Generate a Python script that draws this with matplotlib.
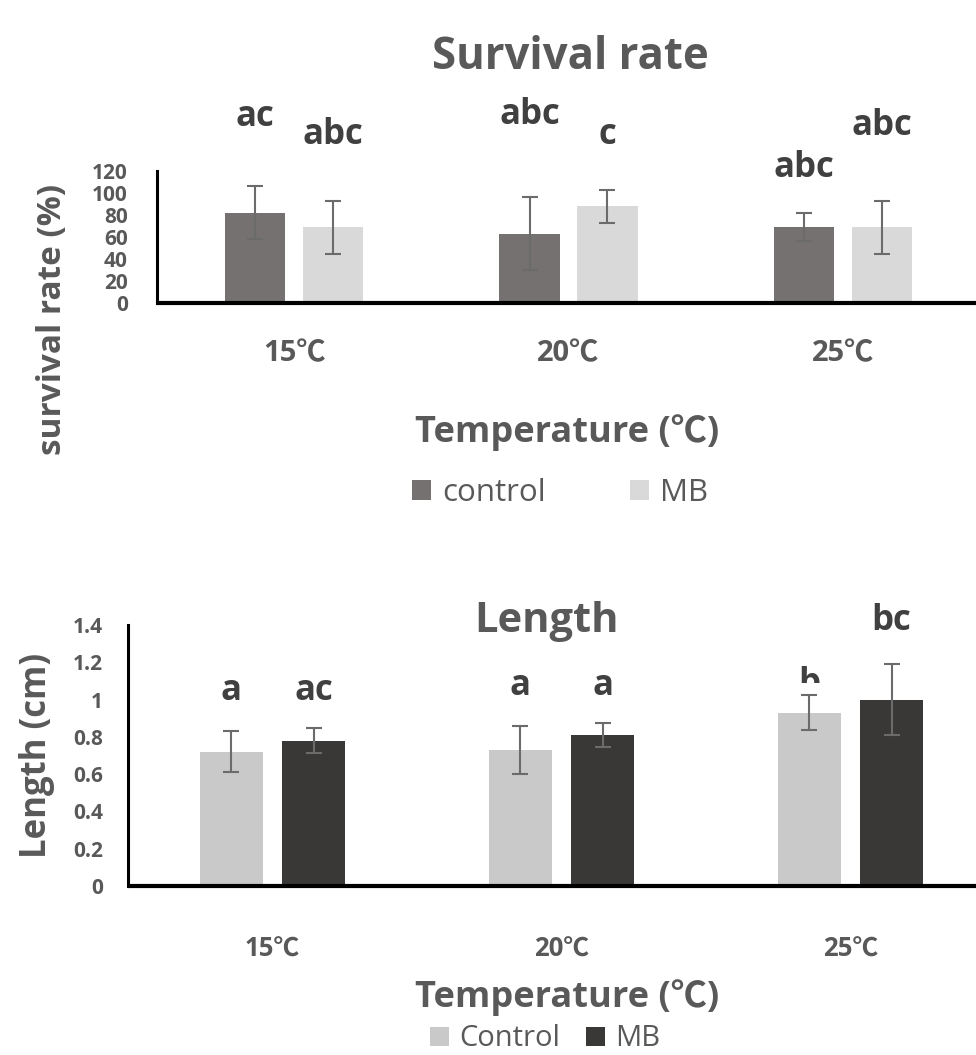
import matplotlib
matplotlib.use("Agg")
import matplotlib.pyplot as plt
import numpy as np
from matplotlib.patches import Rectangle

FONTS = ['Open Sans', 'Noto Sans CJK JP', 'DejaVu Sans']
plt.rcParams['font.family'] = FONTS

# ---------------- data ----------------
temps = ["15℃", "20℃", "25℃"]

surv_control = [82, 63, 69]
surv_control_err = [24, 33, 12.5]
surv_mb = [69, 88, 69]
surv_mb_err = [24, 15, 24]
surv_letters_control = ["ac", "abc", "abc"]
surv_letters_mb = ["abc", "c", "abc"]
surv_letter_y_control = [161, 162.7, 114.5]
surv_letter_y_mb = [145, 144.5, 152.7]

len_control = [0.72, 0.73, 0.93]
len_control_err = [0.11, 0.13, 0.095]
len_mb = [0.78, 0.81, 1.00]
len_mb_err = [0.065, 0.065, 0.19]
len_letters_control = ["a", "a", "b"]
len_letters_mb = ["ac", "a", "bc"]
len_letter_y_control = [0.998, 1.025, 1.035]
len_letter_y_mb = [0.998, 1.025, 1.373]

# ---------------- style ----------------
W, H = 976, 1055
fig = plt.figure(figsize=(W / 100, H / 100), dpi=100)
TXT = "#595959"
ANN = "#404040"
ERR = "#6b6b6b"
bw = 0.22
off = 0.142
x = np.arange(len(temps))


def fx(px):
    return px / W


def fy(py):
    return 1 - py / H


def style_axes(ax, ylim, yticks, yticklabels, ysize, xsize, ypad, xpad):
    ax.set_xlim(-0.5, 2.5)
    ax.set_ylim(*ylim)
    ax.set_yticks(yticks)
    ax.set_yticklabels(yticklabels)
    ax.set_xticks(x)
    ax.set_xticklabels(temps)
    for s in ("top", "right"):
        ax.spines[s].set_visible(False)
    ax.spines["left"].set_linewidth(2.2)
    ax.spines["bottom"].set_linewidth(3.0)
    ax.spines["bottom"].set_capstyle("butt")
    ax.tick_params(axis="both", length=0)
    ax.tick_params(axis="y", pad=ypad)
    ax.tick_params(axis="x", pad=xpad)
    for lab in ax.get_yticklabels():
        lab.set_fontweight("bold")
        lab.set_color(TXT)
        lab.set_fontsize(ysize)
    for lab in ax.get_xticklabels():
        lab.set_fontweight("bold")
        lab.set_color(TXT)
        lab.set_fontsize(xsize)


ANN_SIZE = 25

# ---------------- top: survival rate ----------------
ax1 = fig.add_axes([fx(157), fy(303), fx(980 - 157), (303 - 171) / H])
b1 = ax1.bar(x - off, surv_control, bw, color="#767171", label="control", zorder=2)
b2 = ax1.bar(x + off, surv_mb, bw, color="#D9D9D9", label="MB", zorder=2)
ax1.errorbar(x - off, surv_control, yerr=surv_control_err, fmt="none",
             ecolor=ERR, elinewidth=1.5, capsize=6, capthick=1.5, zorder=3)
ax1.errorbar(x + off, surv_mb, yerr=surv_mb_err, fmt="none",
             ecolor=ERR, elinewidth=1.5, capsize=6, capthick=1.5, zorder=3)
style_axes(ax1, (0, 120), np.arange(0, 121, 20), [str(v) for v in range(0, 121, 20)],
           15, 21, 21, 26)
for i in range(len(temps)):
    ax1.text(x[i] - off, surv_letter_y_control[i], surv_letters_control[i], ha="center",
             va="baseline", fontsize=ANN_SIZE, fontweight="bold", color=ANN, clip_on=False)
    ax1.text(x[i] + off, surv_letter_y_mb[i], surv_letters_mb[i], ha="center",
             va="baseline", fontsize=ANN_SIZE, fontweight="bold", color=ANN, clip_on=False)

fig.text(fx(570), fy(69), "Survival rate", ha="center", va="baseline",
         fontsize=31.5, fontweight="bold", color=TXT)
fig.text(fx(52), fy(319), "survival rate (%)", ha="center", va="center",
         rotation=90, fontsize=24, fontweight="bold", color=TXT)
fig.text(fx(567), fy(442), "Temperature (℃)", ha="center", va="baseline",
         fontsize=26, fontweight="bold", color=TXT)
fig.legend(handles=[b1, b2], labels=["control", "MB"], loc="center",
           bbox_to_anchor=(fx(560), fy(493)), ncol=2, frameon=False,
           fontsize=22.5, labelcolor=TXT, handlelength=0.6, handleheight=0.6,
           handletextpad=0.35, columnspacing=2.7)

# ---------------- bottom: length ----------------
ax2 = fig.add_axes([fx(128), fy(886), fx(995 - 128), (886 - 625) / H])
c1 = ax2.bar(x - off, len_control, bw, color="#C9C9C9", label="Control", zorder=2)
c2 = ax2.bar(x + off, len_mb, bw, color="#3A3836", label="MB", zorder=2)
ax2.errorbar(x - off, len_control, yerr=len_control_err, fmt="none",
             ecolor=ERR, elinewidth=1.5, capsize=6, capthick=1.5, zorder=3)
ax2.errorbar(x + off, len_mb, yerr=len_mb_err, fmt="none",
             ecolor=ERR, elinewidth=1.5, capsize=6, capthick=1.5, zorder=3)
yt = np.round(np.arange(0, 1.41, 0.2), 1)
style_axes(ax2, (0, 1.4), yt,
           ["0" if v == 0 else ("1" if v == 1 else f"{v:.1f}") for v in yt],
           15, 18.5, 18, 36)
for i in range(len(temps)):
    t = ax2.text(x[i] - off, len_letter_y_control[i], len_letters_control[i], ha="center",
                 va="baseline", fontsize=ANN_SIZE, fontweight="bold", color=ANN)
    if i == 2:
        # label partly hidden in the original
        t.set_clip_path(Rectangle((0, fy(683)), 1, 1, transform=fig.transFigure))
        t.set_clip_on(True)
    else:
        t.set_clip_on(False)
    ax2.text(x[i] + off, len_letter_y_mb[i], len_letters_mb[i], ha="center",
             va="baseline", fontsize=ANN_SIZE, fontweight="bold", color=ANN, clip_on=False)

fig.text(fx(546), fy(632), "Length", ha="center", va="baseline",
         fontsize=30, fontweight="bold", color=TXT)
fig.text(fx(37), fy(755), "Length (cm)", ha="center", va="center",
         rotation=90, fontsize=25, fontweight="bold", color=TXT)
fig.text(fx(567), fy(1007), "Temperature (℃)", ha="center", va="baseline",
         fontsize=26, fontweight="bold", color=TXT)
fig.legend(handles=[c1, c2], labels=["Control", "MB"], loc="center",
           bbox_to_anchor=(fx(545), fy(1039)), ncol=2, frameon=False,
           fontsize=21, labelcolor=TXT, handlelength=0.65, handleheight=0.65,
           handletextpad=0.35, columnspacing=0.9, borderpad=0.1)

fig.savefig("out.png", dpi=100)
